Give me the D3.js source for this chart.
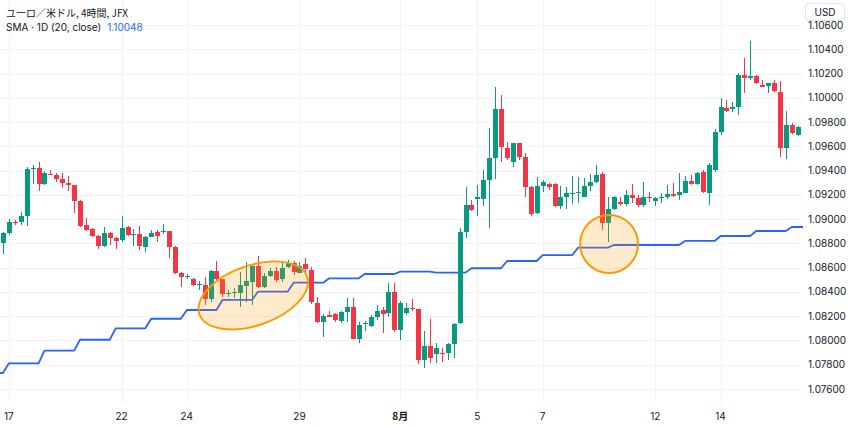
<!DOCTYPE html>
<html><head><meta charset="utf-8">
<script src="https://cdn.jsdelivr.net/npm/d3@7"></script>
<style>
html,body{margin:0;padding:0;background:#fff;}
svg{display:block;}
</style></head><body>
<svg id="chart" width="850" height="426"></svg>
<script>
// ---- data (EUR/USD 4h, JFX) ----
const opens = [
1.08801,1.08883,1.08979,1.08974,1.09026,1.09413,1.09419,1.09290,1.09372,1.09364,
1.09328,1.09300,1.09281,1.09152,1.08949,1.08916,1.08861,1.08779,1.08883,1.08842,
1.08828,1.08933,1.08869,1.08874,1.08773,1.08855,1.08892,1.08892,1.08902,1.08773,
1.08554,1.08526,1.08507,1.08459,1.08457,1.08338,1.08575,1.08504,1.08391,1.08395,
1.08389,1.08451,1.08484,1.08614,1.08438,1.08531,1.08575,1.08504,1.08608,1.08636,
1.08559,1.08630,1.08581,1.08311,1.08155,1.08210,1.08216,1.08160,1.08232,1.08278,
1.08010,1.08133,1.08119,1.08191,1.08251,1.08224,1.08402,1.08086,1.08224,1.08265,
1.08257,1.07839,1.07954,1.07888,1.07899,1.07899,1.07967,1.08142,1.08896,1.09117,
1.09162,1.09164,1.09323,1.09501,1.09905,1.09584,1.09473,1.09625,1.09515,1.09267,
1.09048,1.09273,1.09287,1.09290,1.09108,1.09180,1.09211,1.09213,1.09185,1.09273,
1.09309,1.09372,1.08966,1.09081,1.09144,1.09122,1.09199,1.09172,1.09117,1.09185,
1.09152,1.09172,1.09180,1.09207,1.09199,1.09218,1.09317,1.09290,1.09391,1.09215,
1.09405,1.09721,1.09914,1.09905,1.09922,1.10188,1.10161,1.10180,1.10106,1.10097,
1.10120,1.10050,1.09586,1.09776,1.09694];
const highs = [
1.08896,1.08999,1.08993,1.09061,1.09432,1.09446,1.09473,1.09399,1.09405,1.09378,
1.09378,1.09356,1.09283,1.09158,1.09007,1.08924,1.08869,1.08933,1.08896,1.08850,
1.09026,1.08943,1.08919,1.08943,1.08861,1.08910,1.08910,1.08960,1.08904,1.08775,
1.08568,1.08548,1.08517,1.08490,1.08526,1.08581,1.08657,1.08506,1.08416,1.08430,
1.08567,1.08649,1.08630,1.08699,1.08554,1.08595,1.08608,1.08641,1.08663,1.08657,
1.08649,1.08676,1.08606,1.08358,1.08218,1.08245,1.08229,1.08245,1.08348,1.08348,
1.08155,1.08160,1.08210,1.08292,1.08278,1.08471,1.08476,1.08328,1.08306,1.08339,
1.08259,1.08081,1.08174,1.07979,1.07938,1.07977,1.08146,1.08927,1.09265,1.09158,
1.09281,1.09401,1.09749,1.10087,1.10023,1.09638,1.09630,1.09630,1.09548,1.09273,
1.09345,1.09323,1.09295,1.09295,1.09273,1.09262,1.09356,1.09345,1.09337,1.09368,
1.09446,1.09391,1.09180,1.09191,1.09185,1.09240,1.09290,1.09199,1.09309,1.09226,
1.09180,1.09218,1.09281,1.09295,1.09378,1.09356,1.09364,1.09391,1.09405,1.09460,
1.09740,1.09996,1.09982,1.09968,1.10202,1.10326,1.10471,1.10188,1.10147,1.10125,
1.10147,1.10141,1.09894,1.09795,1.09768];
const lows = [
1.08713,1.08869,1.08952,1.08952,1.08943,1.09287,1.09234,1.09281,1.09361,1.09309,
1.09259,1.09234,1.09048,1.08933,1.08905,1.08850,1.08754,1.08768,1.08787,1.08751,
1.08809,1.08861,1.08781,1.08746,1.08729,1.08850,1.08812,1.08878,1.08676,1.08548,
1.08441,1.08507,1.08449,1.08412,1.08292,1.08320,1.08498,1.08361,1.08361,1.08348,
1.08278,1.08320,1.08292,1.08430,1.08430,1.08521,1.08484,1.08484,1.08600,1.08540,
1.08554,1.08567,1.08301,1.08144,1.08029,1.08191,1.08155,1.08142,1.08155,1.08008,
1.07977,1.08078,1.08113,1.08169,1.08064,1.08196,1.08072,1.08004,1.08210,1.08245,
1.07806,1.07771,1.07812,1.07814,1.07823,1.07839,1.07856,1.08136,1.08842,1.09071,
1.09026,1.09108,1.08924,1.09328,1.09473,1.09487,1.09432,1.09487,1.09185,1.09026,
1.09042,1.09226,1.09240,1.09098,1.09081,1.09081,1.09125,1.09131,1.09182,1.09232,
1.09295,1.08910,1.08814,1.09075,1.09111,1.09108,1.09131,1.09103,1.09098,1.09144,
1.09108,1.09136,1.09164,1.09185,1.09158,1.09213,1.09281,1.09281,1.09213,1.09117,
1.09388,1.09694,1.09886,1.09886,1.09858,1.10037,1.10147,1.10114,1.10087,1.10037,
1.10050,1.09515,1.09493,1.09702,1.09685];
const closes = [
1.08883,1.08979,1.08974,1.09026,1.09411,1.09424,1.09290,1.09383,1.09364,1.09328,
1.09300,1.09279,1.09152,1.08943,1.08910,1.08861,1.08781,1.08883,1.08842,1.08820,
1.08929,1.08869,1.08878,1.08779,1.08855,1.08888,1.08863,1.08902,1.08773,1.08554,
1.08526,1.08531,1.08457,1.08463,1.08338,1.08575,1.08504,1.08383,1.08395,1.08397,
1.08457,1.08490,1.08614,1.08438,1.08531,1.08575,1.08498,1.08595,1.08641,1.08567,
1.08614,1.08585,1.08320,1.08155,1.08202,1.08196,1.08169,1.08232,1.08278,1.08010,
1.08128,1.08142,1.08191,1.08245,1.08218,1.08402,1.08086,1.08311,1.08265,1.08257,
1.07839,1.07954,1.07853,1.07938,1.07893,1.07967,1.08136,1.08896,1.09117,1.09079,
1.09185,1.09323,1.09501,1.09905,1.09597,1.09501,1.09625,1.09510,1.09267,1.09042,
1.09273,1.09309,1.09267,1.09108,1.09180,1.09213,1.09214,1.09221,1.09273,1.09309,
1.09364,1.08966,1.09081,1.09180,1.09122,1.09199,1.09172,1.09117,1.09185,1.09172,
1.09172,1.09180,1.09207,1.09191,1.09226,1.09317,1.09290,1.09383,1.09226,1.09446,
1.09721,1.09922,1.09894,1.09922,1.10188,1.10166,1.10180,1.10120,1.10092,1.10120,
1.10059,1.09586,1.09776,1.09712,1.09757];
// daily SMA(20, close), one value per trading day (6 four-hour bars per day)
const smaDaily = [1.07732,1.07812,1.07916,1.08006,1.08100,1.08179,1.08251,1.08334,
1.08402,1.08476,1.08512,1.08548,1.08567,1.08559,1.08595,1.08655,1.08704,1.08765,
1.08787,1.08787,1.08820,1.08861,1.08902,1.08935];
const priceTicks = [1.076,1.078,1.080,1.082,1.084,1.086,1.088,1.090,1.092,1.094,1.096,1.098,1.100,1.102,1.104,1.106];
const dateLabels = ["17","22","24","29","8月","5","7","12","14"];
const dateBars   = [1,20,31,50,67,80,91,110,121];
const highlightBars   = [42.2, 102.2];
const highlightPrices = [1.08371, 1.08795];
const titleText = "ユーロ／米ドル, 4時間, JFX";
const smaLabel = "SMA · 1D (20, close)";
const smaValue = "1.10048";

// ---- drawing ----
const W = 850, H = 426, plotW = 803, plotH = 403;
const svg = d3.select("#chart");
const n = closes.length;
const x = d3.scaleLinear().domain([-0.5, n - 0.1]).range([0, plotW]);
const y = d3.scaleLinear().domain([1.076, 1.106]).range([389, 25]);
const UP = "#089981", DOWN = "#f23645";
const fontLatin = "Inter, Roboto, 'Noto Sans', sans-serif";
const fontJP = "'Noto Sans CJK JP', 'Noto Sans', sans-serif";

svg.append("rect").attr("width", W).attr("height", H).attr("fill", "#fff");

// grid
const grid = svg.append("g").attr("shape-rendering", "crispEdges");
grid.selectAll("line.h").data(priceTicks).join("line")
  .attr("x1", 0).attr("x2", plotW)
  .attr("y1", d => Math.round(y(d)) + 0.5).attr("y2", d => Math.round(y(d)) + 0.5)
  .attr("stroke", "#f0f3fa");
grid.selectAll("line.v").data(dateBars).join("line")
  .attr("x1", d => Math.round(x(d)) + 0.5).attr("x2", d => Math.round(x(d)) + 0.5)
  .attr("y1", 0).attr("y2", plotH)
  .attr("stroke", "#f0f3fa");

// SMA line
const smaPts = [];
smaPts.push([-0.5, smaDaily[0]]);
for (let i = 0; i < n; i++) smaPts.push([i, smaDaily[Math.floor((i - 1) / 6) + 1]]);
smaPts.push([n - 0.1, smaDaily[smaDaily.length - 1]]);
svg.append("path").datum(smaPts)
  .attr("fill", "none").attr("stroke", "#2962ff").attr("stroke-width", 1.8)
  .attr("stroke-linejoin", "round")
  .attr("d", d3.line().x(d => x(d[0])).y(d => y(d[1])));

// candles
const bars = d3.range(n).map(i => ({i, o: opens[i], h: highs[i], l: lows[i], c: closes[i]}));
const cg = svg.append("g").attr("shape-rendering", "crispEdges");
const cx = i => Math.round(x(i));
cg.selectAll("rect.w").data(bars).join("rect")
  .attr("x", d => cx(d.i)).attr("width", 1)
  .attr("y", d => y(d.h)).attr("height", d => Math.max(1, y(d.l) - y(d.h)))
  .attr("fill", d => d.c >= d.o ? UP : DOWN);
cg.selectAll("rect.b").data(bars).join("rect")
  .attr("x", d => cx(d.i) - 2).attr("width", 5)
  .attr("y", d => y(Math.max(d.o, d.c)))
  .attr("height", d => Math.max(1, Math.abs(y(d.o) - y(d.c))))
  .attr("fill", d => d.c >= d.o ? UP : DOWN);

// highlight ellipses
const hl = svg.append("g");
const e1 = [x(highlightBars[0]), y(highlightPrices[0])];
hl.append("ellipse").attr("cx", 0).attr("cy", 0).attr("rx", 57).attr("ry", 30)
  .attr("transform", `translate(${e1[0]},${e1[1]}) rotate(-19.3)`)
  .attr("fill", "rgba(255,152,0,0.2)").attr("stroke", "#ff9800").attr("stroke-width", 1.9);
const e2 = [x(highlightBars[1]), y(highlightPrices[1])];
hl.append("ellipse").attr("cx", e2[0]).attr("cy", e2[1]).attr("rx", 29).attr("ry", 29)
  .attr("fill", "rgba(255,152,0,0.2)").attr("stroke", "#ff9800").attr("stroke-width", 1.9);

// price axis
const pa = svg.append("g");
pa.selectAll("text").data(priceTicks).join("text")
  .attr("x", 808).attr("y", d => y(d)).attr("dy", "0.35em")
  .attr("font-family", fontLatin).attr("font-size", 10).attr("fill", "#131722")
  .text(d => d3.format(".5f")(d));
pa.append("rect").attr("x", 805.5).attr("y", 3.5).attr("width", 39).attr("height", 17).attr("rx", 3)
  .attr("fill", "#fff").attr("stroke", "#e0e3eb");
pa.append("text").attr("x", 825).attr("y", 12).attr("dy", "0.35em").attr("text-anchor", "middle")
  .attr("font-family", fontLatin).attr("font-size", 10).attr("fill", "#131722").text("USD");

// time axis
const ta = svg.append("g");
ta.selectAll("text").data(dateBars).join("text")
  .attr("x", d => x(d)).attr("y", 416).attr("dy", "0.35em").attr("text-anchor", "middle")
  .attr("font-family", (d, k) => dateLabels[k].includes("月") ? fontJP : fontLatin)
  .attr("font-weight", (d, k) => dateLabels[k].includes("月") ? 700 : 400)
  .attr("font-size", 10).attr("fill", "#131722")
  .text((d, k) => dateLabels[k]);

// legend
svg.append("text").attr("x", 6).attr("y", 13).attr("dy", "0.35em")
  .attr("font-family", fontJP).attr("font-size", 10).attr("fill", "#131722").text(titleText);
const lg = svg.append("text").attr("x", 6).attr("y", 27).attr("dy", "0.35em")
  .attr("font-family", fontLatin).attr("font-size", 10).attr("fill", "#131722");
lg.append("tspan").text(smaLabel);
lg.append("tspan").attr("dx", 6).attr("fill", "#2962ff").text(smaValue);
</script>
</body></html>
